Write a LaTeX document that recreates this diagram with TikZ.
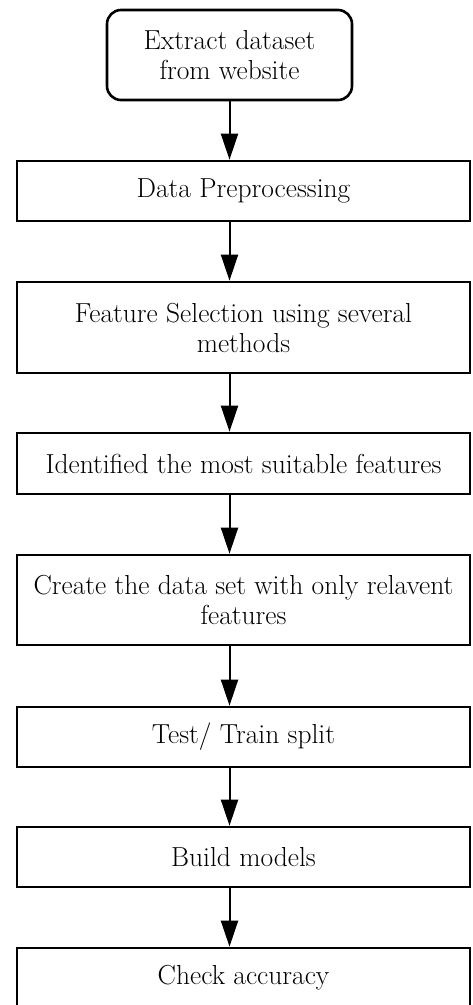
\documentclass[tikz,border=0pt]{standalone}
\usetikzlibrary{arrows.meta}
\begin{document}
\begin{tikzpicture}[x=1pt,y=-1pt,
  every node/.style={font=\fontsize{27.5}{30}\selectfont, align=center, inner sep=0pt},
  startbox/.style={draw, line width=2.6pt, rounded corners=14pt, minimum width=245pt, minimum height=90pt},
  stepbox/.style={draw, line width=2.6pt, minimum width=453pt},
  flow/.style={line width=2pt, -{Triangle[length=26pt,width=17pt]}}]
\useasboundingbox (0,0) rectangle (472,1005);
\node[startbox] (extract) at (229.5,55) {Extract dataset\\from website};
\node[stepbox, minimum height=60pt] (prep) at (243.5,191) {Data Preprocessing};
\node[stepbox, minimum height=91pt] (select) at (243.5,327.5) {Feature Selection using several\\methods};
\node[stepbox, minimum height=61pt] (ident) at (243.5,463.5) {Identified the most suitable features};
\node[stepbox, minimum height=90pt] (create) at (243.5,600) {Create the data set with only relavent\\features};
\node[stepbox, minimum height=60pt] (split) at (243.5,737) {Test/ Train split};
\node[stepbox, minimum height=60pt] (build) at (243.5,857) {Build models};
\node[stepbox, minimum height=60pt] (check) at (243.5,978) {Check accuracy};
\draw[flow] (extract.south) -- (prep.north -| extract);
\draw[flow] (prep.south -| extract) -- (select.north -| extract);
\draw[flow] (select.south -| extract) -- (ident.north -| extract);
\draw[flow] (ident.south -| extract) -- (create.north -| extract);
\draw[flow] (create.south -| extract) -- (split.north -| extract);
\draw[flow] (split.south -| extract) -- (build.north -| extract);
\draw[flow] (build.south -| extract) -- (check.north -| extract);
\end{tikzpicture}
\end{document}
